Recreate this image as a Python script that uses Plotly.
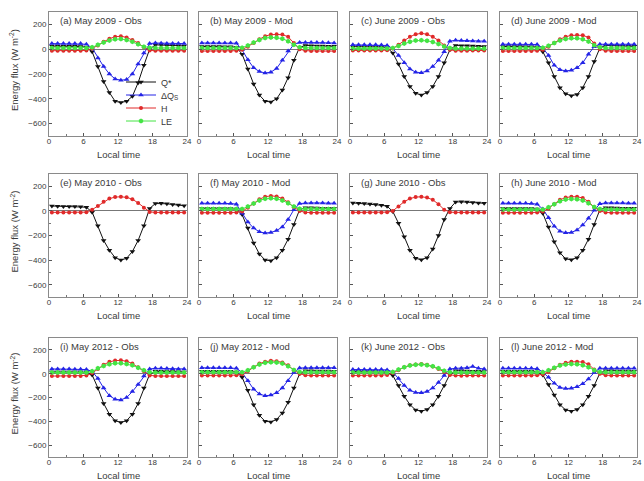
import plotly.graph_objects as go

HOURS = [0.5, 1.5, 2.5, 3.5, 4.5, 5.5, 6.5, 7.5, 8.5, 9.5, 10.5, 11.5,
         12.5, 13.5, 14.5, 15.5, 16.5, 17.5, 18.5, 19.5, 20.5, 21.5, 22.5, 23.5]
X_TICKS = [0, 6, 12, 18, 24]
Y_TICKS = [-600, -400, -200, 0, 200]
SERIES_NAMES = ["Q*", "ΔQ<sub>S</sub>", "H", "LE"]
PANEL_TITLES = [
    "(a) May 2009 - Obs", "(b) May 2009 - Mod", "(c) June 2009 - Obs", "(d) June 2009 - Mod",
    "(e) May 2010 - Obs", "(f) May 2010 - Mod", "(g) June 2010 - Obs", "(h) June 2010 - Mod",
    "(i) May 2012 - Obs", "(j) May 2012 - Mod", "(k) June 2012 - Obs", "(l) June 2012 - Mod",
]

# (a) May 2009 - Obs
A_QSTAR = [25, 25, 24, 24, 23, 22, 15, -20, -140, -260, -350, -420, -430, -420, -380, -270, -130, 0, 35, 35, 32, 30, 28, 26]
A_DQS = [45, 45, 45, 45, 45, 45, 40, 10, -70, -140, -200, -240, -250, -245, -200, -120, -30, 45, 50, 48, 46, 45, 45, 45]
A_H = [-12, -12, -12, -12, -12, -12, -10, 5, 30, 60, 85, 100, 105, 95, 75, 50, 15, -10, -12, -12, -12, -12, -12, -12]
A_LE = [10, 10, 10, 10, 10, 10, 10, 15, 35, 55, 70, 80, 82, 75, 60, 40, 20, 12, 10, 10, 10, 10, 10, 10]
# (b) May 2009 - Mod
B_QSTAR = [22, 22, 21, 21, 20, 20, 15, -40, -160, -280, -370, -420, -425, -400, -330, -230, -90, 15, 30, 28, 26, 25, 24, 23]
B_DQS = [50, 50, 50, 50, 50, 50, 48, -5, -85, -150, -180, -192, -185, -155, -90, -15, 40, 55, 55, 55, 55, 55, 52, 50]
B_H = [-15, -15, -15, -15, -15, -15, -12, -5, 20, 50, 80, 105, 118, 120, 118, 100, 50, 0, -12, -15, -15, -15, -15, -15]
B_LE = [10, 10, 10, 10, 10, 10, 10, 12, 30, 55, 75, 90, 95, 92, 85, 65, 35, 15, 10, 10, 10, 10, 10, 10]
# (c) June 2009 - Obs
C_QSTAR = [20, 20, 20, 20, 20, 18, 12, -30, -120, -220, -300, -355, -370, -350, -300, -220, -110, -5, 30, 28, 27, 25, 24, 22]
C_DQS = [35, 35, 35, 35, 35, 33, 30, 5, -50, -110, -160, -185, -190, -175, -140, -90, -20, 65, 72, 70, 68, 66, 65, 65]
C_H = [-10, -10, -10, -10, -10, -10, -8, 5, 35, 70, 100, 120, 128, 120, 100, 70, 30, -5, -12, -12, -12, -10, -10, -10]
C_LE = [5, 5, 5, 5, 5, 5, 5, 10, 25, 45, 60, 70, 72, 68, 58, 42, 22, 10, 5, 5, 5, 5, 5, 5]
# (d) June 2009 - Mod
D_QSTAR = [22, 22, 21, 21, 20, 20, 15, -20, -110, -220, -310, -360, -375, -365, -310, -220, -100, 10, 30, 28, 26, 25, 24, 23]
D_DQS = [40, 40, 40, 40, 40, 40, 38, 10, -50, -130, -165, -175, -170, -150, -110, -40, 20, 40, 40, 40, 40, 40, 40, 40]
D_H = [-15, -15, -15, -15, -15, -15, -12, -5, 20, 50, 80, 100, 112, 115, 112, 95, 45, 0, -12, -15, -15, -15, -15, -15]
D_LE = [10, 10, 10, 10, 10, 10, 10, 12, 28, 50, 70, 82, 88, 88, 80, 62, 32, 15, 10, 10, 10, 10, 10, 10]
# (e) May 2010 - Obs (no ΔQs / LE)
E_QSTAR = [40, 38, 36, 35, 35, 34, 30, -10, -120, -240, -320, -380, -400, -385, -330, -240, -120, 20, 60, 62, 58, 52, 48, 42]
E_H = [-12, -12, -12, -12, -12, -12, -10, 10, 40, 75, 100, 112, 115, 110, 95, 65, 25, -8, -12, -12, -12, -12, -12, -12]
# (f) May 2010 - Mod
F_QSTAR = [20, 20, 20, 20, 20, 20, 15, -30, -140, -260, -350, -400, -405, -380, -320, -230, -110, 10, 25, 25, 23, 22, 22, 21]
F_DQS = [62, 62, 62, 62, 62, 60, 55, -20, -90, -140, -170, -180, -175, -160, -130, -70, 10, 60, 65, 65, 65, 65, 63, 62]
F_H = [-15, -15, -15, -15, -15, -15, -12, -5, 25, 60, 95, 115, 122, 118, 100, 70, 30, 0, -12, -15, -15, -15, -15, -15]
F_LE = [15, 15, 15, 15, 15, 15, 15, 15, 35, 60, 85, 98, 102, 98, 85, 62, 35, 18, 15, 15, 15, 15, 15, 15]
# (g) June 2010 - Obs (no ΔQs / LE)
G_QSTAR = [65, 62, 60, 56, 52, 46, 38, -5, -100, -210, -320, -385, -398, -380, -310, -200, -70, 20, 72, 74, 72, 68, 65, 62]
G_H = [-12, -12, -12, -12, -12, -12, -10, 0, 35, 75, 100, 112, 115, 108, 90, 55, 10, -10, -12, -12, -12, -12, -12, -12]
# (h) June 2010 - Mod
H_QSTAR = [20, 20, 20, 20, 20, 20, 15, -20, -130, -250, -340, -390, -398, -380, -320, -230, -110, 10, 25, 25, 23, 22, 22, 21]
H_DQS = [62, 62, 62, 62, 62, 60, 55, 15, -55, -125, -165, -178, -175, -155, -115, -60, 5, 58, 65, 65, 65, 65, 63, 62]
H_H = [-15, -15, -15, -15, -15, -15, -12, -5, 20, 55, 90, 108, 115, 115, 105, 75, 30, 0, -12, -15, -15, -15, -15, -15]
H_LE = [12, 12, 12, 12, 12, 12, 12, 12, 30, 55, 78, 92, 97, 95, 85, 62, 32, 15, 12, 12, 12, 12, 12, 12]
# (i) May 2012 - Obs
I_QSTAR = [15, 15, 15, 15, 15, 15, 12, -10, -120, -250, -340, -395, -410, -395, -340, -250, -120, -5, 20, 20, 18, 18, 16, 15]
I_DQS = [40, 40, 40, 40, 38, 38, 35, 20, -40, -120, -185, -215, -220, -200, -150, -90, -20, 40, 45, 45, 43, 42, 40, 40]
I_H = [-20, -20, -20, -20, -20, -20, -15, 5, 40, 75, 100, 110, 112, 105, 85, 55, 20, -15, -20, -20, -20, -20, -20, -20]
I_LE = [10, 10, 10, 10, 10, 10, 10, 20, 45, 65, 80, 88, 88, 82, 70, 50, 28, 12, 10, 10, 10, 10, 10, 10]
# (j) May 2012 - Mod
J_QSTAR = [20, 20, 20, 20, 20, 20, 15, -30, -140, -260, -350, -400, -405, -385, -330, -240, -120, 0, 25, 25, 23, 22, 22, 21]
J_DQS = [50, 50, 50, 50, 50, 50, 45, 10, -60, -130, -170, -186, -180, -160, -120, -60, 10, 48, 50, 50, 50, 50, 50, 50]
J_H = [-15, -15, -15, -15, -15, -15, -12, -5, 20, 55, 85, 100, 108, 105, 95, 70, 30, 0, -12, -15, -15, -15, -15, -15]
J_LE = [12, 12, 12, 12, 12, 12, 12, 12, 30, 55, 78, 92, 97, 95, 85, 62, 32, 15, 12, 12, 12, 12, 12, 12]
# (k) June 2012 - Obs
K_QSTAR = [18, 18, 18, 18, 18, 16, 12, -15, -100, -190, -260, -305, -315, -300, -260, -190, -100, -5, 25, 25, 22, 20, 20, 18]
K_DQS = [35, 35, 35, 35, 35, 35, 32, 15, -40, -100, -140, -158, -160, -150, -120, -75, -15, 40, 45, 45, 50, 60, 45, 40]
K_H = [-15, -15, -15, -15, -15, -15, -10, 5, 30, 55, 70, 78, 82, 75, 60, 40, 15, -10, -15, -18, -15, -15, -15, -15]
K_LE = [10, 10, 10, 10, 10, 10, 10, 15, 35, 55, 68, 75, 78, 72, 62, 45, 25, 12, 10, 10, 10, 10, 10, 10]
# (l) June 2012 - Mod
L_QSTAR = [20, 20, 20, 20, 20, 20, 15, -10, -90, -180, -260, -305, -315, -300, -260, -190, -100, 5, 25, 25, 23, 22, 22, 21]
L_DQS = [45, 45, 45, 45, 45, 45, 42, 15, -30, -80, -115, -125, -122, -110, -85, -45, 10, 45, 45, 45, 45, 45, 45, 45]
L_H = [-15, -15, -15, -15, -15, -15, -12, -5, 15, 45, 75, 92, 100, 100, 98, 80, 35, 0, -12, -15, -15, -15, -15, -15]
L_LE = [12, 12, 12, 12, 12, 12, 12, 12, 28, 50, 68, 78, 82, 80, 72, 55, 30, 15, 12, 12, 12, 12, 12, 12]

PANEL_DATA = [
    (A_QSTAR, A_DQS, A_H, A_LE), (B_QSTAR, B_DQS, B_H, B_LE),
    (C_QSTAR, C_DQS, C_H, C_LE), (D_QSTAR, D_DQS, D_H, D_LE),
    (E_QSTAR, None, E_H, None), (F_QSTAR, F_DQS, F_H, F_LE),
    (G_QSTAR, None, G_H, None), (H_QSTAR, H_DQS, H_H, H_LE),
    (I_QSTAR, I_DQS, I_H, I_LE), (J_QSTAR, J_DQS, J_H, J_LE),
    (K_QSTAR, K_DQS, K_H, K_LE), (L_QSTAR, L_DQS, L_H, L_LE),
]

W, H = 644, 481
COLORS = ["#111111", "#2424e6", "#e02a2a", "#44e444"]
SYMBOLS = ["triangle-down", "triangle-up", "circle", "hexagon"]
SIZES = [5, 5, 4, 5]
COL_PX = [(49, 187), (199, 337), (350, 487), (500, 637)]
ROW_PX = [(12, 136), (174, 297), (338, 457)]
LEGEND_NAMES = ["legend", "legend2", "legend3", "legend4"]
LEGEND_Y_PX = [82, 95, 108, 121]
FONT = "Liberation Sans, Arial, sans-serif"
TXT = "#3a3a3a"

fig = go.Figure()
layout = dict(width=W, height=H, margin=dict(l=0, r=0, t=0, b=0),
              paper_bgcolor="white", plot_bgcolor="white", showlegend=True)
annotations = []

for k in range(12):
    r, c = divmod(k, 4)
    n = k + 1
    xs = "" if n == 1 else str(n)
    x0, x1 = COL_PX[c]
    y0, y1 = ROW_PX[r]
    layout["xaxis" + xs] = dict(
        domain=[x0 / W, x1 / W], anchor="y" + xs, range=[0, 24],
        tickvals=X_TICKS, ticks="inside", ticklen=3, tickcolor="#555",
        minor=dict(ticks="inside", ticklen=2, dtick=3, tickcolor="#777"),
        showline=True, linecolor="#8a8a8a", linewidth=1, mirror=True,
        showgrid=False, zeroline=False, ticklabelstandoff=-3,
        tickfont=dict(family=FONT, size=8, color=TXT), automargin=False,
    )
    layout["yaxis" + xs] = dict(
        domain=[1 - y1 / H, 1 - y0 / H], anchor="x" + xs, range=[-700, 300],
        tickvals=Y_TICKS, ticks="inside", ticklen=3, tickcolor="#555",
        minor=dict(ticks="inside", ticklen=2, dtick=100, tickcolor="#777"),
        showticklabels=(c == 0),
        showline=True, linecolor="#8a8a8a", linewidth=1, mirror=True,
        showgrid=False, zeroline=True, zerolinecolor="#777", zerolinewidth=1,
        tickfont=dict(family=FONT, size=8, color=TXT), automargin=False,
    )
    for s, series in enumerate(PANEL_DATA[k]):
        if series is None:
            continue
        fig.add_trace(go.Scatter(
            x=HOURS, y=series, mode="lines+markers", name=SERIES_NAMES[s],
            xaxis="x" + xs, yaxis="y" + xs, showlegend=(k == 0),
            legend=LEGEND_NAMES[s],
            line=dict(color=COLORS[s], width=1),
            marker=dict(color=COLORS[s], symbol=SYMBOLS[s], size=SIZES[s]),
        ))
    annotations.append(dict(
        text=PANEL_TITLES[k], xref="paper", yref="paper",
        x=(x0 + 9) / W, y=1 - (y0 + 8) / H, xanchor="left", yanchor="middle",
        showarrow=False, font=dict(family=FONT, size=9.5, color=TXT)))
    annotations.append(dict(
        text="Local time", xref="paper", yref="paper",
        x=((x0 + x1) / 2) / W, y=1 - (y1 + 18) / H, xanchor="center", yanchor="middle",
        showarrow=False, font=dict(family=FONT, size=9.5, color=TXT)))
    if c == 0:
        annotations.append(dict(
            text="Energy flux (W m<sup>-2</sup>)", xref="paper", yref="paper",
            x=14 / W, y=1 - ((y0 + y1) / 2 - 4) / H, xanchor="center", yanchor="middle",
            textangle=-90, showarrow=False, font=dict(family=FONT, size=9.5, color=TXT)))

layout["annotations"] = annotations
for name, ypx in zip(LEGEND_NAMES, LEGEND_Y_PX):
    layout[name] = dict(x=121 / W, y=1 - ypx / H, xanchor="left", yanchor="middle",
                        bgcolor="rgba(0,0,0,0)", font=dict(family=FONT, size=9, color=TXT),
                        itemwidth=30, borderwidth=0)
fig.update_layout(**layout)
fig.write_html("out.html")
